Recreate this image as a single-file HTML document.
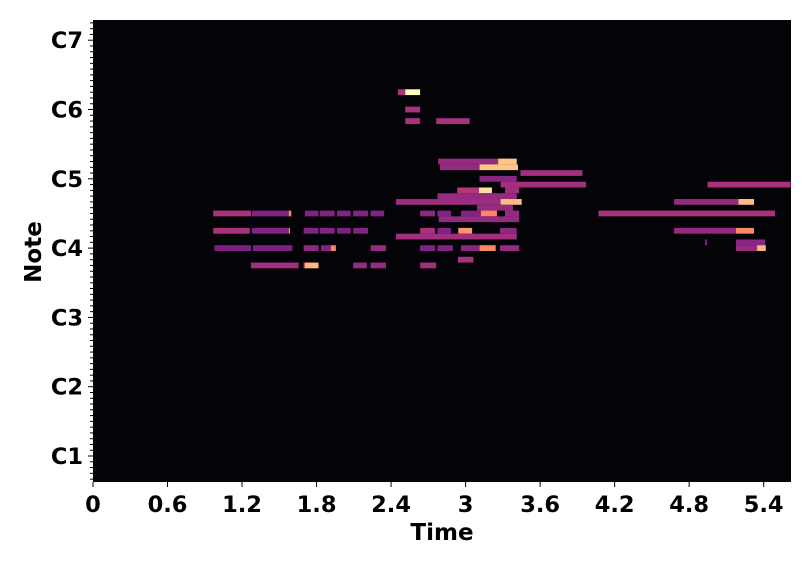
<!DOCTYPE html>
<html><head><meta charset="utf-8"><style>
body{margin:0;background:#fff;width:810px;height:565px;overflow:hidden}
svg text{font-family:"DejaVu Sans","Liberation Sans",sans-serif;font-weight:bold}
</style></head><body>
<svg id="chart" width="810" height="565" xmlns="http://www.w3.org/2000/svg">
<rect x="93" y="20" width="698" height="462" fill="#040308"/>
<g id="notes"></g>
<g id="axes"></g>
<text x="442" y="540" font-size="23" text-anchor="middle">Time</text>
<text x="0" y="0" font-size="23" text-anchor="middle" transform="translate(41,252) rotate(-90)">Note</text>
</svg>
<script>
const xTicks=[0,0.6,1.2,1.8,2.4,3,3.6,4.2,4.8,5.4];
const xTickLabels=["0","0.6","1.2","1.8","2.4","3","3.6","4.2","4.8","5.4"];
const yTicks=[24,36,48,60,72,84,96];
const yTickLabels=["C1","C2","C3","C4","C5","C6","C7"];
const noteStart=[0.97,1.283,1.58,1.71,1.83,1.97,2.10,2.24, 0.97,1.283,1.58,1.70,1.83,1.97,2.10, 0.98,1.29,1.70,1.84,1.92,2.24, 1.275,1.70,1.71,2.10,2.24,
2.46,2.52,2.52,2.52,2.77,2.785,3.27,2.80,3.12,3.45,3.12,3.29,4.96,2.94,3.115,3.325,2.78,2.445,3.29,4.69,5.21,3.10,
2.64,2.78,2.97,3.13,3.325,4.08,2.79,2.64,2.78,2.945,2.95,3.285,4.69,5.19,2.445,4.94,5.19,2.64,2.78,2.97,3.12,3.285,5.19,5.36,2.945,2.64];
const noteEnd=[1.275,1.58,1.60,1.82,1.95,2.08,2.22,2.35, 1.265,1.58,1.59,1.82,1.95,2.08,2.22, 1.275,1.61,1.82,1.92,1.96,2.365, 1.66,1.71,1.82,2.21,2.365,
2.52,2.64,2.64,2.64,3.04,3.27,3.42,3.12,3.43,3.95,3.42,3.98,5.63,3.115,3.22,3.44,3.42,3.29,3.46,5.21,5.335,3.39,
2.76,2.89,3.13,3.26,3.44,5.505,3.44,2.76,2.89,2.95,3.06,3.42,5.19,5.335,3.42,4.955,5.425,2.76,2.905,3.12,3.25,3.44,5.36,5.43,3.07,2.77];
const notePitch=[66,66,66,66,66,66,66,66, 63,63,63,63,63,63,63, 60,60,60,60,60,60, 57,57,57,57,57,
87,87,84,82,82,75,75,74,74,73,72,71,71,70,70,70,69,68,68,68,68,67,
66,66,66,66,66,66,65,63,63,63,63,63,63,63,62,61,61,60,60,60,60,60,60,60,58,57];
const noteVelocity=[.5,.4,.75,.4,.4,.4,.4,.4, .5,.4,.75,.4,.4,.38,.4, .38,.38,.43,.4,.75,.45, .48,.6,.85,.45,.45,
.5,1.0,.5,.5,.5,.45,.88,.45,.88,.48,.42,.48,.5,.52,.93,.48,.45,.47,.86,.45,.86,.45,
.43,.4,.4,.75,.45,.5,.45,.5,.4,.4,.78,.43,.45,.75,.48,.42,.42,.4,.4,.42,.75,.45,.45,.85,.5,.48];

const X0=93,X1=791,Y0=20,Y1=482,TMAX=5.62,PMIN=19.5,PMAX=99.5;
const NOTE_SCALE=123.9/124.2;
function xs(t){return X0+(t/TMAX)*(X1-X0);}
function ys(p){return Y1-(p-PMIN)/(PMAX-PMIN)*(Y1-Y0);}
const magma=[[0,[0,0,4]],[0.1,[20,14,54]],[0.2,[59,15,112]],[0.3,[100,26,128]],[0.4,[128,35,130]],[0.5,[170,50,125]],[0.6,[222,73,104]],[0.7,[247,112,92]],[0.8,[254,159,109]],[0.9,[254,207,146]],[1,[252,253,191]]];
function cmap(v){for(let i=1;i<magma.length;i++){if(v<=magma[i][0]){const a=magma[i-1],b=magma[i],f=(v-a[0])/(b[0]-a[0]);return 'rgb('+a[1].map((c,k)=>Math.round(c+(b[1][k]-c)*f)).join(',')+')';}}return 'rgb(252,253,191)';}
const NS='http://www.w3.org/2000/svg';
const g=document.getElementById('notes');
for(let i=0;i<noteStart.length;i++){
  const r=document.createElementNS(NS,'rect');
  
  
  const x=xs(noteStart[i]*NOTE_SCALE),w=Math.max(xs(noteEnd[i]*NOTE_SCALE)-x,1);
  r.setAttribute('x',x);r.setAttribute('width',Math.min(w,X1-x));
  r.setAttribute('y',ys(notePitch[i]+0.5));r.setAttribute('height',ys(notePitch[i]-0.5)-ys(notePitch[i]+0.5));
  r.setAttribute('fill',cmap(noteVelocity[i]));
  g.appendChild(r);
}
const ax=document.getElementById('axes');
function line(x1,y1,x2,y2,name){const l=document.createElementNS(NS,'line');
  
  
  l.setAttribute('x1',x1);l.setAttribute('y1',y1);l.setAttribute('x2',x2);l.setAttribute('y2',y2);l.setAttribute('stroke','#000');l.setAttribute('stroke-width',1);ax.appendChild(l);}
function text(x,y,s,anchor,name){const t=document.createElementNS(NS,'text');
  
  
  t.setAttribute('x',x);t.setAttribute('y',y);t.setAttribute('font-size','22.5');t.setAttribute('text-anchor',anchor);t.textContent=s;ax.appendChild(t);}
xTicks.forEach((t,i)=>{const x=xs(t);line(x,Y1,x,Y1+5,'x-tick');text(x,Y1+30,xTickLabels[i],'middle','x-tick-label');});
for(let p=20;p<=99;p++){const y=ys(p);if(yTicks.indexOf(p)>=0)continue;line(X0-3,y,X0,y,'y-minor-tick');}
yTicks.forEach((p,i)=>{const y=ys(p);line(X0-5,y,X0,y,'y-tick');text(X0-10,y+8,yTickLabels[i],'end','y-tick-label');});
</script>
</body></html>
